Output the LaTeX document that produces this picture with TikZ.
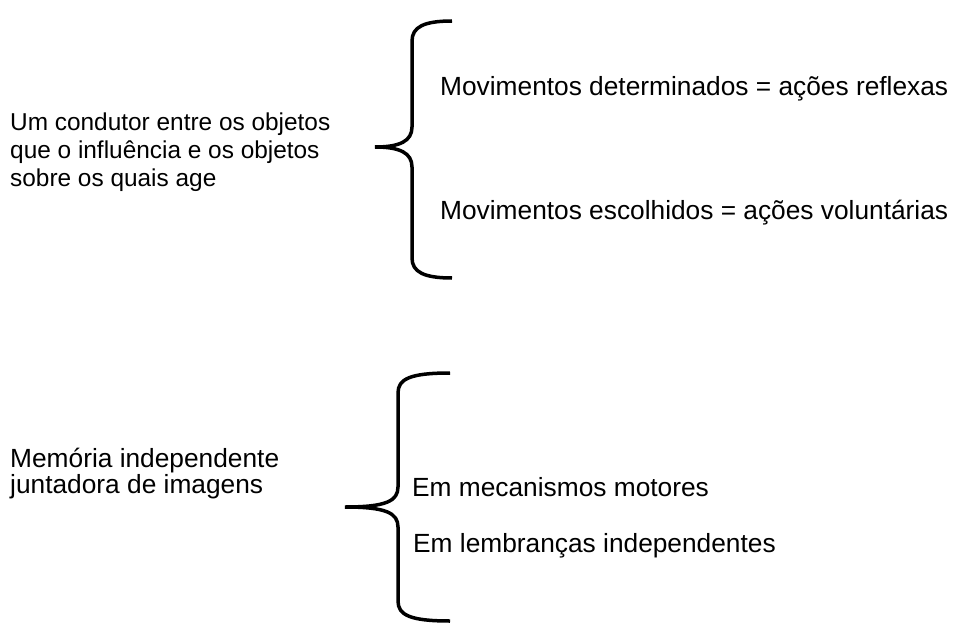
\documentclass[tikz,border=0pt]{standalone}
\usepackage{fontspec}
\setmainfont{Liberation Sans}
\usepackage{tikz}

\begin{document}
\begin{tikzpicture}[x=1pt,y=-1pt]
%% CONFIG
\def\fontS{\fontsize{24.4}{28}\selectfont}
\def\fontT{\fontsize{26.3}{26}\selectfont}
\def\lineW{3.5pt}
\tikzset{txt/.style={anchor=base west,inner sep=0pt,align=left,font=\fontT}}

%% Macro for a curly brace
% 1: style
% 2: tip x, 3: tip y
% 4: spine x
% 5: top y, 6: bottom y
% 7: end x
\newcommand{\drawBrace}[7][]{
    \draw [line width=\lineW,#1] (#7,#5)
    .. controls ({#4+12},#5) and (#4,{#5+6}) .. (#4,{#5+20})
    -- (#4,{#3-20})
    .. controls (#4,{#3-6}) and ({#4-12},#3) .. (#2,#3)
    .. controls ({#4-12},#3) and (#4,{#3+6}) .. (#4,{#3+20})
    -- (#4,{#6-20})
    .. controls (#4,{#6-6}) and ({#4+12},#6) .. (#7,#6);
}

\useasboundingbox (0,0) rectangle (956,623);

% Top group (base = last line)
\node [txt,font=\fontS] (condutor) at (10,186) {Um condutor entre os objetos\\que o influência e os objetos\\sobre os quais age};
\drawBrace{375}{147}{412}{21}{278}{452}
\node [txt] (determ) at (440,96) {Movimentos determinados = ações reflexas};
\node [txt] (escolh) at (440,219) {Movimentos escolhidos = ações voluntárias};

% Bottom group
\node [txt] (memoria) at (10,493) {Memória independente\\juntadora de imagens};
\drawBrace{345}{507}{398}{373}{621}{450}
\node [txt] (motores) at (412,496) {Em mecanismos motores};
\node [txt] (lembr) at (413,552) {Em lembranças independentes};
\end{tikzpicture}
\end{document}
